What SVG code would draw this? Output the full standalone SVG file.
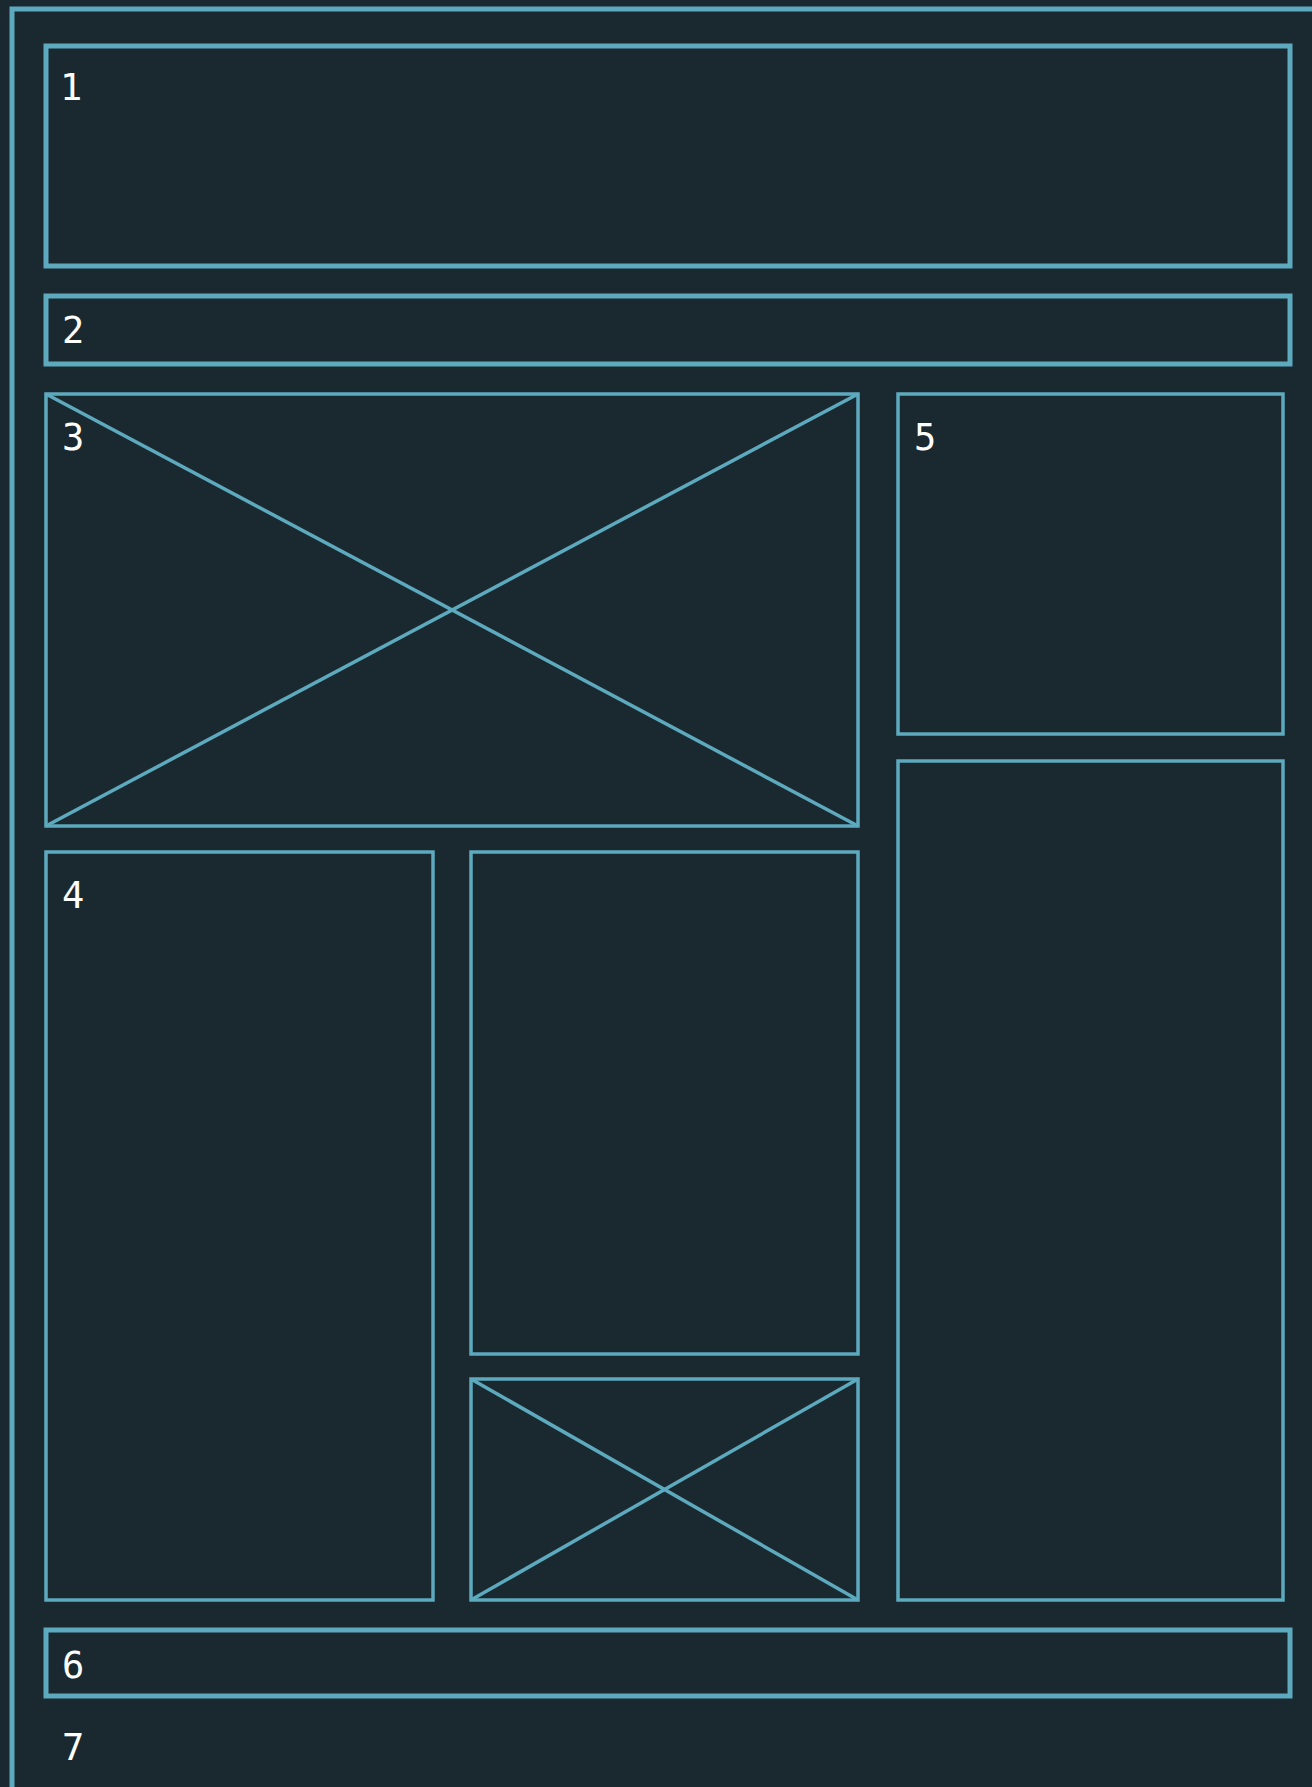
<svg xmlns="http://www.w3.org/2000/svg" width="1312" height="1787" viewBox="0 0 1312 1787">
<style>
.thick{fill:none;stroke:#5da9be;stroke-width:5}
.thin{fill:none;stroke:#5da9be;stroke-width:3.5}
.lbl{fill:#ffffff;font-family:"DejaVu Sans Mono","Liberation Mono",monospace;font-size:37px}
</style>
<rect width="1312" height="1787" fill="#1a2930"/>
<rect class="thick" x="12" y="9" width="1320" height="1800"/>
<g id="n1"><rect class="thick" x="46" y="46" width="1244" height="220"/><text class="lbl" x="60" y="100">1</text></g>
<g id="n2"><rect class="thick" x="46" y="296" width="1244" height="68"/><text class="lbl" x="62" y="343">2</text></g>
<g id="n3"><rect class="thin" x="46" y="394" width="812" height="432"/><text class="lbl" x="62" y="450">3</text></g>
<g id="n5"><rect class="thin" x="898" y="394" width="385" height="340"/><text class="lbl" x="914" y="450">5</text></g>
<g id="n-right"><rect class="thin" x="898" y="761" width="385" height="839"/></g>
<g id="n4"><rect class="thin" x="46" y="852" width="387" height="748"/><text class="lbl" x="62" y="908">4</text></g>
<g id="n-mid"><rect class="thin" x="471" y="852" width="387" height="502"/></g>
<g id="n-midx"><rect class="thin" x="471" y="1379" width="387" height="221"/></g>
<g id="n6"><rect class="thick" x="46" y="1630" width="1244" height="66"/><text class="lbl" x="62" y="1678">6</text></g>
<g id="n7"><text class="lbl" x="62" y="1760">7</text></g>
<g id="connectors">
<line class="thin" x1="46" y1="394" x2="858" y2="826"/>
<line class="thin" x1="858" y1="394" x2="46" y2="826"/>
<line class="thin" x1="471" y1="1379" x2="858" y2="1600"/>
<line class="thin" x1="858" y1="1379" x2="471" y2="1600"/>
</g>
</svg>
